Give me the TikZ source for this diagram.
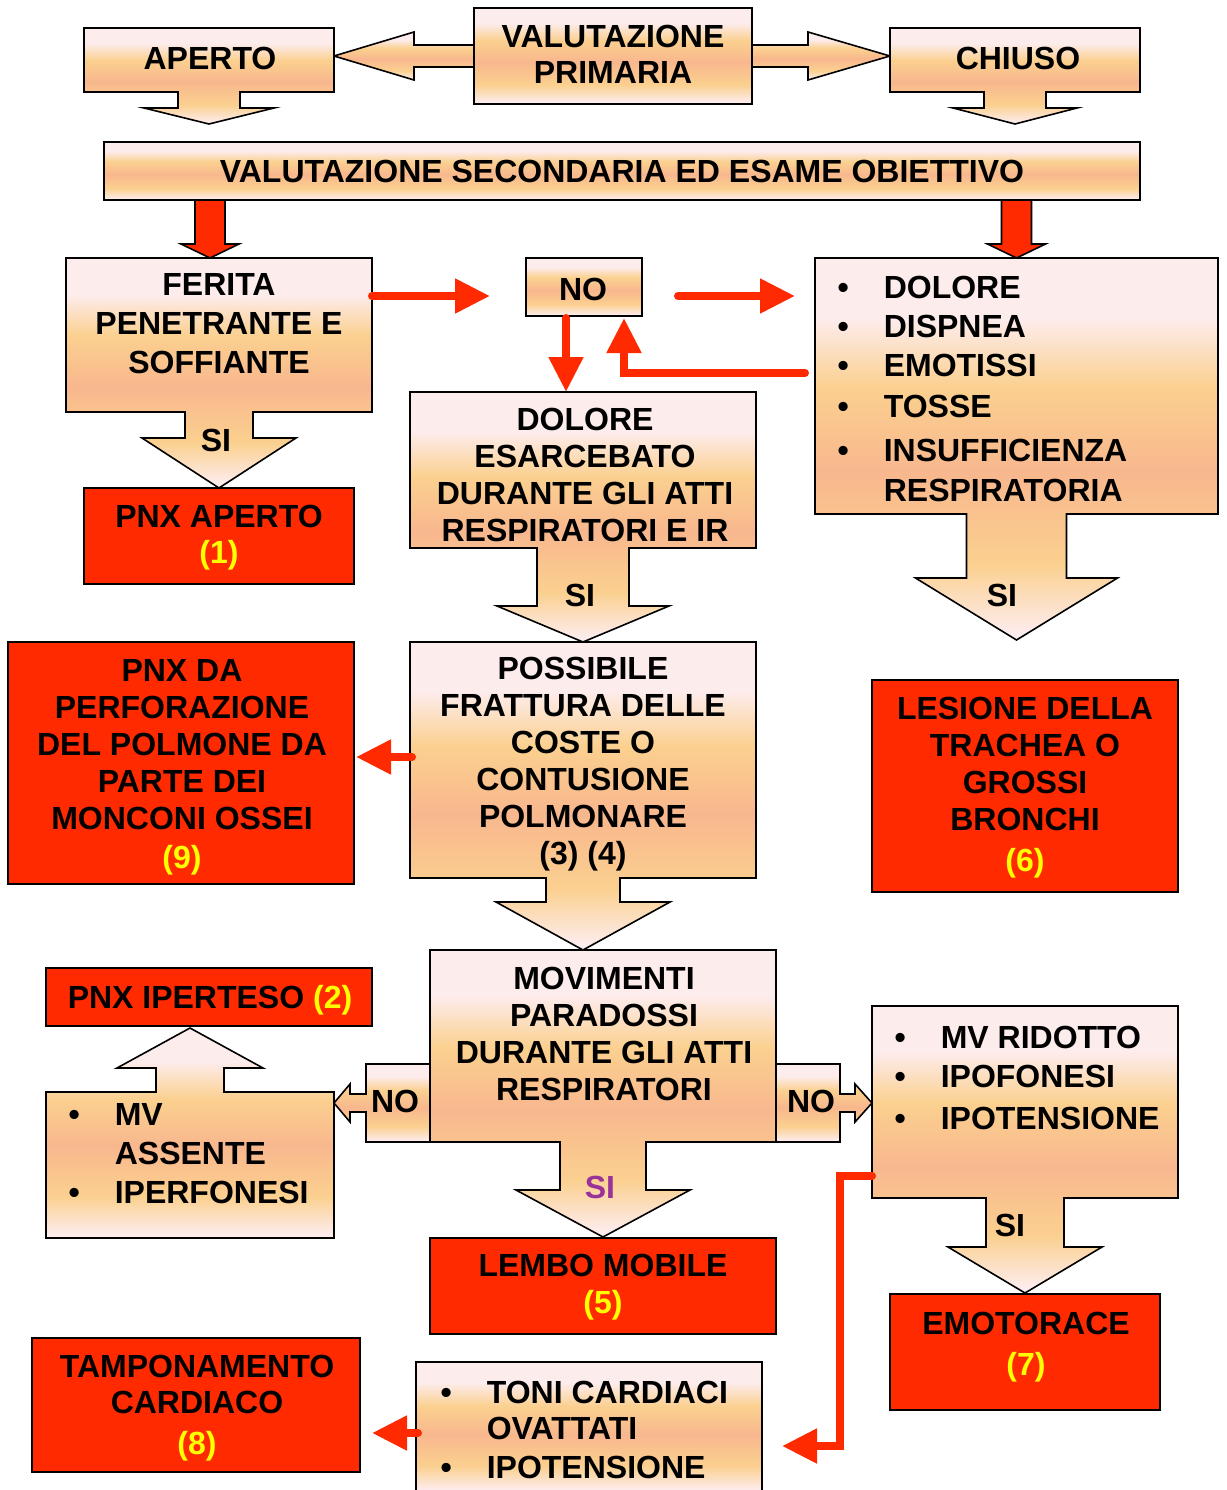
\documentclass[tikz,border=0pt]{standalone}
\usepackage{fontspec}
\setmainfont{Liberation Sans}
\usetikzlibrary{calc, positioning, arrows.meta}

\definecolor{pk}{HTML}{FDECEC}
\definecolor{yl}{HTML}{FBD08F}
\definecolor{sa}{HTML}{F8B78E}
\definecolor{redc}{HTML}{FF2A00}
\definecolor{yel}{HTML}{FFFF00}
\definecolor{purp}{HTML}{993399}

\pgfdeclareverticalshading{peachgrad}{100bp}{color(0bp)=(pk); color(26bp)=(pk); color(35bp)=(yl); color(47bp)=(sa); color(58bp)=(yl); color(67bp)=(pk); color(100bp)=(pk)}

\tikzset{
  frame/.style={inner sep=0pt, outer sep=0pt},
  peach/.style={draw, line width=1.6pt, shade, shading=peachgrad},
  redbox/.style={frame, draw, line width=1.6pt, fill=redc},
  redfill/.style={draw, line width=1.6pt, fill=redc},
  redarrow/.style={draw=redc, line width=8pt, line cap=round, -{Triangle[length=35pt,width=33pt]}},
  caps/.style={inner sep=0pt, align=center, font=\fontsize{32}{37}\selectfont\bfseries},
  listfont/.style={inner sep=0pt, anchor=base west, font=\fontsize{32}{39}\selectfont\bfseries}
}

% callout box with arrow pointing down
\newcommand{\downcall}[5]{%
  \path[peach] (#1.north west) -- (#1.north east) -- (#1.south east)
    -- ($(#1.south)+(#2,0)$) -- ++(0,#3) -- ++(#4-#2,0) -- ($(#1.south)+(0,#3+#5)$)
    -- ($(#1.south)+(-#4,#3)$) -- ++(#4-#2,0) -- ++(0,-#3) -- (#1.south west) -- cycle;}
% red block arrow ending at #1
\newcommand{\redblock}[1]{%
  \path[redfill] #1 -- ++(-29,-14) -- ++(14,0) -- ++(0,-44) -- ++(30,0) -- ++(0,44) -- ++(14,0) -- cycle;}

\begin{document}
\begin{tikzpicture}[x=1pt, y=-1pt]
\fill[white] (0,0) rectangle (1226,1490);
\useasboundingbox (0,0) rectangle (1226,1490);

% boxes
\node[frame, minimum width=250, minimum height=64] (aperto) at (209,60) {};
\node[frame, minimum width=250, minimum height=64] (chiuso) at (1015,60) {};
\node[frame, peach, minimum width=278, minimum height=96] (primaria) at (613,56) {};
\node[frame, peach, minimum width=1036, minimum height=58] (valsec) at (622,171) {};
\node[frame, minimum width=306, minimum height=154] (ferita) at (219,335) {};
\node[redbox, minimum width=270, minimum height=96] (pnxap) at (219,536) {};
\node[frame, peach, minimum width=116, minimum height=58] (no) at (584,287) {};
\node[frame, minimum width=403, minimum height=256] (sintomi) at (1016.5,386) {};
\node[frame, minimum width=346, minimum height=156] (dolore) at (583,470) {};
\node[frame, minimum width=346, minimum height=236] (frattura) at (583,760) {};
\node[redbox, minimum width=346, minimum height=242] (pnxda) at (181,763) {};
\node[redbox, minimum width=306, minimum height=212] (lesione) at (1025,786) {};
\node[frame, minimum width=346, minimum height=192] (movim) at (603,1046) {};
\node[frame, minimum width=64, minimum height=78] (movsx) at (398,1103) {};
\node[frame, minimum width=64, minimum height=78] (movdx) at (808,1103) {};
\node[redbox, minimum width=326, minimum height=58] (pnxip) at (209,997) {};
\node[frame, minimum width=288, minimum height=146] (mvass) at (190,1165) {};
\node[redbox, minimum width=346, minimum height=96] (lembo) at (603,1286) {};
\node[frame, minimum width=306, minimum height=192] (mvrid) at (1025,1102) {};
\node[redbox, minimum width=270, minimum height=116] (emot) at (1025,1352) {};
\node[frame, peach, minimum width=346, minimum height=130] (toni) at (589,1427) {};
\node[redbox, minimum width=328, minimum height=134] (tamp) at (196,1405) {};

% block arrows from the first box
\path[peach] ($(primaria.west)+(0,-11)$) -- ++(-60,0) -- ++(0,-13) -- (aperto.east |- primaria.west)
  -- ++(80,24) -- ++(0,-13) -- ($(primaria.west)+(0,11)$) -- cycle;
\path[peach] ($(primaria.east)+(0,-11)$) -- ++(56,0) -- ++(0,-13) -- (chiuso.west |- primaria.east)
  -- ++(-82,24) -- ++(0,-13) -- ($(primaria.east)+(0,11)$) -- cycle;

% callouts
\downcall{aperto}{31}{16}{65}{16}
\downcall{chiuso}{31}{16}{62}{16}
\downcall{ferita}{34}{26}{77}{50}
\downcall{sintomi}{50}{64}{101}{62}
\downcall{dolore}{46}{58}{86}{36}
\downcall{frattura}{37}{24}{87}{48}
\downcall{mvrid}{39}{49}{77}{46}
\path[peach] (movsx.north west) -- (movsx.north east) -- (movsx.south east) -- (movsx.south west)
  -- ++(0,-30) -- ++(-16,0) -- ++(0,10) -- ++(-16,-19) -- ++(16,-19) -- ++(0,10) -- ++(16,0) -- cycle;
\path[peach] (movdx.north west) -- (movdx.north east) -- ++(0,30) -- ++(15,0) -- ++(0,-10) -- ++(17,19)
  -- ++(-17,19) -- ++(0,-10) -- ++(-15,0) -- (movdx.south east) -- (movdx.south west) -- cycle;
\downcall{movim}{43}{48}{87}{47}
\path[peach] (mvass.south west) -- (mvass.south east) -- (mvass.north east) -- ($(mvass.north)+(34,0)$)
  -- ++(0,-24) -- ++(39,0) -- ($(mvass.north)+(0,-64)$) -- ($(mvass.north)+(-73,-24)$) -- ++(39,0)
  -- ++(0,24) -- (mvass.north west) -- cycle;

% red connectors
\redblock{($(ferita.north)+(-9,0)$)}
\redblock{(sintomi.north)}
\draw[redarrow] ($(ferita.east)+(0,-39)$) -- ($(ferita.east -| no.west)+(-36,-39)$);
\draw[redarrow] ($(no.east)+(36,9)$) -- ($(no.east -| sintomi.west)+(-20,9)$);
\draw[redarrow] ($(no.south)+(-18,2)$) -- ($(dolore.north)+(-17,0)$);
\draw[redarrow] ($(sintomi.west)+(-10,-13)$) -| ($(no.south)+(40,2)$);
\draw[redarrow] ($(frattura.west)+(2,-3)$) -- ($(pnxda.east)+(2,-6)$);
\draw[redarrow] ($(mvrid.west)+(0,74)$) -- ++(-32,0) |- ($(toni.east)+(20,19)$);
\draw[redarrow] ($(toni.west)+(2,6)$) -- ($(tamp.east)+(12,28)$);

% texts
\node[caps] (t-aperto) at (210,58) {APERTO};
\node[caps] (t-chiuso) at (1018,58) {CHIUSO};
\node[caps, font=\fontsize{32}{36}\selectfont\bfseries] (t-primaria) at (613,54) {VALUTAZIONE\\PRIMARIA};
\node[caps] (t-valsec) at (622,171) {VALUTAZIONE SECONDARIA ED ESAME OBIETTIVO};
\node[caps] (t-ferita) at (219,324) {FERITA\\[2pt]PENETRANTE E\\[2pt]SOFFIANTE};
\node[caps] (si-ferita) at (216,440) {SI};
\node[caps, font=\fontsize{32}{36}\selectfont\bfseries] (t-pnxap) at (219,538) {PNX APERTO\\{\color{yel}(1)}};
\node[caps] (t-no) at (583,289) {NO};
\node[listfont] (t-sintomi) at (837.4,298.5) {\begin{tabular}[t]{@{}c@{\hspace{35pt}}l@{}}
  \textbullet & DOLORE\\
  \textbullet & DISPNEA\\
  \textbullet & EMOTISSI\\[2pt]
  \textbullet & TOSSE\\[5pt]
  \textbullet & INSUFFICIENZA\\[1pt]
   & RESPIRATORIA
\end{tabular}};
\node[caps] (si-sintomi) at (1002,595) {SI};
\node[caps] (t-dolore) at (585,475) {DOLORE\\ESARCEBATO\\DURANTE GLI ATTI\\RESPIRATORI E IR};
\node[caps] (si-dolore) at (580,595) {SI};
\node[caps] (t-frattura) at (583,764) {POSSIBILE\\FRATTURA DELLE\\COSTE O\\CONTUSIONE\\POLMONARE\\(3) (4)};
\node[caps] (t-pnxda) at (182,767) {PNX DA\\PERFORAZIONE\\DEL POLMONE DA\\PARTE DEI\\MONCONI OSSEI\\[2pt]{\color{yel}(9)}};
\node[caps] (t-lesione) at (1025,788) {LESIONE DELLA\\TRACHEA O\\GROSSI\\BRONCHI\\[4pt]{\color{yel}(6)}};
\node[caps] (t-movim) at (604,1034) {MOVIMENTI\\PARADOSSI\\DURANTE GLI ATTI\\RESPIRATORI};
\node[caps] (no-sx) at (395,1101) {NO};
\node[caps] (no-dx) at (811,1101) {NO};
\node[caps, text=purp] (si-movim) at (600,1187) {SI};
\node[caps] (t-pnxip) at (210,1000) {PNX IPERTESO {\color{yel}(2)}};
\node[listfont] (t-mvass) at (68.4,1125.5) {\begin{tabular}[t]{@{}c@{\hspace{35pt}}l@{}}
  \textbullet & MV\\
   & ASSENTE\\
  \textbullet & IPERFONESI
\end{tabular}};
\node[caps, font=\fontsize{32}{37}\selectfont\bfseries] (t-lembo) at (603,1287) {LEMBO MOBILE\\{\color{yel}(5)}};
\node[listfont] (t-mvrid) at (894.4,1048.5) {\begin{tabular}[t]{@{}c@{\hspace{35pt}}l@{}}
  \textbullet & MV RIDOTTO\\
  \textbullet & IPOFONESI\\[3pt]
  \textbullet & IPOTENSIONE
\end{tabular}};
\node[caps] (si-mvrid) at (1010,1225) {SI};
\node[caps] (t-emot) at (1026,1347) {EMOTORACE\\[4pt]{\color{yel}(7)}};
\node[caps, font=\fontsize{32}{36}\selectfont\bfseries] (t-tamp) at (197,1408) {TAMPONAMENTO\\CARDIACO\\[5pt]{\color{yel}(8)}};
\node[listfont, font=\fontsize{32}{36}\selectfont\bfseries] (t-toni) at (440.4,1403.5) {\begin{tabular}[t]{@{}c@{\hspace{35pt}}l@{}}
  \textbullet & TONI CARDIACI\\
   & OVATTATI\\[3pt]
  \textbullet & IPOTENSIONE
\end{tabular}};
\end{tikzpicture}
\end{document}
